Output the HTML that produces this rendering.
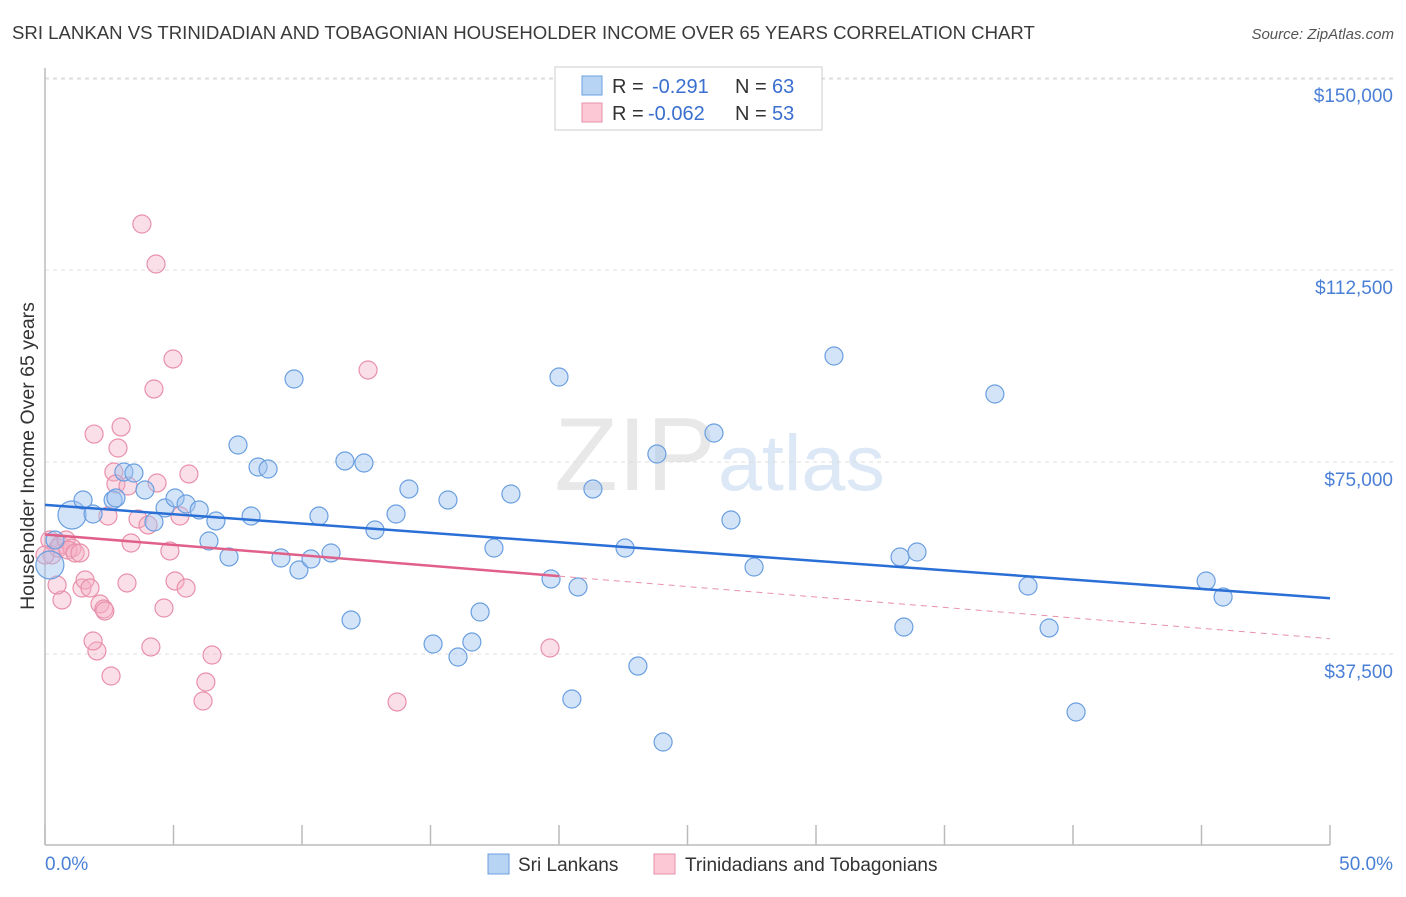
<!DOCTYPE html>
<html><head><meta charset="utf-8"><style>
body{margin:0;background:#fff;font-family:"Liberation Sans",sans-serif}
svg text{font-family:"Liberation Sans",sans-serif}
</style></head><body>
<svg id="c" width="1406" height="892" xmlns="http://www.w3.org/2000/svg">
<text x="12" y="39" font-size="18.6" fill="#3a3a3a">SRI LANKAN VS TRINIDADIAN AND TOBAGONIAN HOUSEHOLDER INCOME OVER 65 YEARS CORRELATION CHART</text>
<text x="1394" y="39" font-size="15" fill="#555" text-anchor="end" font-style="italic">Source: ZipAtlas.com</text>
<text transform="translate(34,456) rotate(-90)" font-size="19.5" fill="#333" text-anchor="middle">Householder Income Over 65 years</text>
<text x="716" y="490" font-size="104" fill="#e8e8e8" text-anchor="end" font-family="Liberation Serif">ZIP</text>
<text x="718" y="490" font-size="79" fill="#dce8f6">atlas</text>
<g id="grid"></g><g id="pts"></g><g id="lines"></g>
<g>
<rect x="555" y="67" width="267" height="63" fill="#fff" stroke="#ccc"/>
<rect x="582" y="76" width="20" height="19" fill="#b8d4f5" stroke="#6a9fe0"/>
<text x="612" y="93" font-size="20" fill="#333">R =</text>
<text x="652" y="93" font-size="20" fill="#3a6fd0">-0.291</text>
<text x="735" y="93" font-size="20" fill="#333">N =</text>
<text x="772" y="93" font-size="20" fill="#3a6fd0">63</text>
<rect x="582" y="103" width="20" height="19" fill="#fcc8d6" stroke="#e890aa"/>
<text x="612" y="120" font-size="20" fill="#333">R =</text>
<text x="648" y="120" font-size="20" fill="#3a6fd0">-0.062</text>
<text x="735" y="120" font-size="20" fill="#333">N =</text>
<text x="772" y="120" font-size="20" fill="#3a6fd0">53</text>
</g>
<g>
<rect x="488" y="854" width="21" height="20" fill="#b8d4f5" stroke="#6a9fe0"/>
<text x="518" y="871" font-size="19" fill="#333">Sri Lankans</text>
<rect x="654" y="854" width="21" height="20" fill="#fcc8d6" stroke="#e890aa"/>
<text x="685" y="871" font-size="19" fill="#333">Trinidadians and Tobagonians</text>
</g>
<text x="45" y="870" font-size="19" fill="#4a7fd6">0.0%</text>
<text x="1393" y="870" font-size="19" fill="#4a7fd6" text-anchor="end">50.0%</text>
</svg>
<script>
const yTicks=[37500,75000,112500,150000];
const yTickLabels=["$37,500","$75,000","$112,500","$150,000"];
const blueX=[1.05,1.48,1.87,2.65,2.76,3.07,3.46,3.89,4.24,4.67,5.06,5.49,6.0,6.38,6.65,7.16,7.51,8.02,8.29,8.68,9.18,9.69,9.88,10.35,10.66,11.13,11.67,11.91,12.41,12.84,13.66,14.16,15.1,15.68,16.07,16.61,16.93,17.47,18.13,19.69,20.0,20.5,20.74,21.32,22.57,23.07,23.81,24.05,26.03,26.69,27.59,30.7,33.27,33.42,33.93,36.96,38.25,39.07,40.12,45.18,45.84,0.19,0.39];
const blueY=[64650,67580,64840,67580,67970,73050,72850,69530,63280,66020,67970,66800,65630,59570,63480,56450,78320,64450,74020,73630,56250,91210,53910,56050,64450,57230,75200,44140,74800,61720,64840,69730,39450,67580,36910,39840,45700,58200,68750,52150,91600,28710,50590,69730,58200,35150,76560,20310,80660,63670,54490,95700,56450,42770,57420,88280,50780,42580,26170,51760,48630,54880,59770];
const pinkX=[0.19,0.27,0.51,0.58,0.82,1.05,0.66,0.89,1.17,1.36,1.44,1.56,1.75,1.91,2.02,1.87,2.14,2.29,2.33,2.45,2.57,2.68,2.76,2.84,2.96,3.19,3.23,3.35,3.62,3.77,4.01,4.12,4.24,4.32,4.36,4.63,4.86,4.98,5.06,5.25,5.49,5.6,6.15,6.26,6.5,12.57,13.7,19.65,0.47,0.0];
const pinkY=[59770,56840,58200,58790,59770,58200,48050,57810,57230,57230,50390,51950,50390,80460,38090,40040,47270,46290,45900,64450,33200,73050,70700,77730,81840,51370,70310,59180,63870,121480,62700,38870,89260,113670,70900,46480,57620,95120,51760,64450,50390,72660,28320,32030,37300,92970,28130,38670,50970,56840];
const X0=45,X1=1330,Y0=846,PY=192/37500;
const sx=v=>X0+(v/50)*(X1-X0), sy=v=>Y0-v*PY;
const NS="http://www.w3.org/2000/svg";
const mk=(t,a)=>{const e=document.createElementNS(NS,t);for(const k in a)e.setAttribute(k,a[k]);return e;};
const grid=document.getElementById('grid');
yTicks.forEach((t,i)=>{
 const l=mk('line',{x1:45,x2:1395,y1:sy(t),y2:sy(t),stroke:'#ddd','stroke-dasharray':'4,4'});
 
 
 grid.appendChild(l);
 const tx=mk('text',{x:1393,y:sy(t)+24,'font-size':19,fill:'#4a7fd6','text-anchor':'end'});
 tx.textContent=yTickLabels[i];
 
 
 grid.appendChild(tx);
});
const topLine=mk('line',{x1:45,x2:1395,y1:79,y2:79,stroke:'#ddd','stroke-dasharray':'4,4'});


grid.appendChild(topLine);
const ax=mk('line',{x1:45,x2:1330,y1:845,y2:845,stroke:'#bbb','stroke-width':1.5});


grid.appendChild(ax);
const ay=mk('line',{x1:45,x2:45,y1:68,y2:845,stroke:'#bbb','stroke-width':1.5});


grid.appendChild(ay);
for(let i=0;i<=10;i++){
 const tk=mk('line',{x1:sx(i*5),x2:sx(i*5),y1:825,y2:845,stroke:'#bbb','stroke-width':1.5});
 
 
 grid.appendChild(tk);
}
const pts=document.getElementById('pts');
pinkX.forEach((x,i)=>{
 const c=mk('circle',{cx:sx(x),cy:sy(pinkY[i]),r:9,fill:'rgba(246,176,198,0.4)',stroke:'#e890aa','stroke-width':1.2});
 
 
 pts.appendChild(c);
});
blueX.forEach((x,i)=>{
 const big=(i===0||i===61);
 const c=mk('circle',{cx:sx(x),cy:sy(blueY[i]),r:big?14:9,fill:'rgba(160,196,240,0.45)',stroke:'#6a9fe0','stroke-width':1.2});
 
 
 pts.appendChild(c);
});
function fit(xs,ys){const n=xs.length;let mx=0,my=0;xs.forEach((x,i)=>{mx+=x;my+=ys[i]});mx/=n;my/=n;let a=0,b=0;xs.forEach((x,i)=>{a+=(x-mx)*(ys[i]-my);b+=(x-mx)**2});const s=a/b;return [s,my-s*mx];}
const lines=document.getElementById('lines');
const [bs,bi]=fit(blueX,blueY);
const bl=mk('line',{x1:sx(0),y1:sy(bi),x2:sx(50),y2:sy(bi+bs*50),stroke:'#2a6fd6','stroke-width':2.5});


lines.appendChild(bl);
const [ps,pi]=fit(pinkX,pinkY);
const pl=mk('line',{x1:sx(0),y1:sy(pi),x2:sx(20),y2:sy(pi+ps*20),stroke:'#e0608a','stroke-width':2.5});


lines.appendChild(pl);
const pd=mk('line',{x1:sx(20),y1:sy(pi+ps*20),x2:sx(50),y2:sy(pi+ps*50),stroke:'#e890aa','stroke-width':1,'stroke-dasharray':'6,5'});


lines.appendChild(pd);
</script>
</body></html>
